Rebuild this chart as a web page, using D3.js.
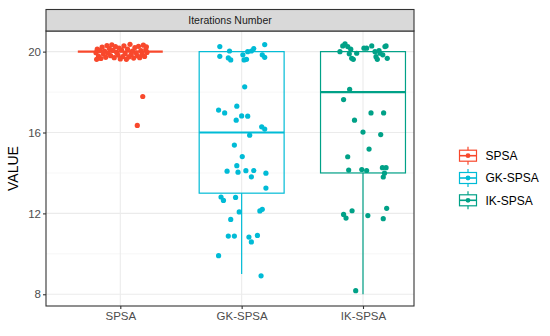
<!DOCTYPE html>
<html>
<head>
<meta charset="utf-8">
<script src="https://d3js.org/d3.v7.min.js"></script>
<style>
  body { margin: 0; background: #fff; }
  text { font-family: "Liberation Sans", Arial, sans-serif; }
</style>
</head>
<body>
<div id="chart"></div>
<script>
// groups and colours
var categories = ["SPSA", "GK-SPSA", "IK-SPSA"];
var colors = ["#F8482C", "#00BBD6", "#00A187"];

// box statistics per group: [lower whisker, q1, median, q3, upper whisker]
var boxStats = [
  [20, 20, 20, 20, 20],
  [9, 13, 16, 20, 20],
  [8, 14, 18, 20, 20]
];

// jittered points: [offset in category units, value]
var spsaPoints = [
  [-0.20, 19.95], [-0.19, 20.12], [-0.18, 19.78], [-0.17, 20.05], [-0.16, 19.66],
  [-0.15, 20.22], [-0.14, 19.88], [-0.13, 20.02], [-0.12, 19.72], [-0.11, 20.30],
  [-0.10, 19.92], [-0.09, 20.15], [-0.08, 19.80], [-0.07, 20.34], [-0.06, 20.06],
  [-0.05, 19.70], [-0.04, 20.25], [-0.03, 19.96], [-0.02, 19.83], [-0.01, 20.18],
  [0.00, 19.64], [0.01, 20.08], [0.02, 19.76], [0.03, 20.28], [0.04, 19.90],
  [0.05, 19.62], [0.06, 20.12], [0.07, 19.74], [0.08, 20.36], [0.09, 19.86],
  [0.10, 20.02], [0.11, 19.68], [0.12, 20.20], [0.13, 19.94], [0.14, 19.80],
  [0.15, 20.26], [0.16, 19.70], [0.17, 20.05], [0.18, 19.88], [0.19, 20.32],
  [0.20, 19.76], [0.21, 20.10], [0.22, 19.96], [-0.195, 19.62], [0.215, 20.24],
  [0.185, 17.78], [0.14, 16.35]
];
var gkPoints = [
  [-0.18, 20.25], [-0.10, 20.03], [-0.18, 19.77], [-0.11, 19.69], [-0.09, 19.59],
  [0.01, 19.84], [0.02, 19.59], [0.04, 19.62], [0.05, 20.00], [0.08, 20.03],
  [0.10, 20.15], [0.19, 20.35], [0.17, 19.84], [0.19, 19.72],
  [0.025, 18.26], [-0.19, 17.11], [-0.14, 16.97], [-0.04, 17.30], [0.00, 16.82],
  [0.05, 16.81], [-0.045, 16.61], [0.165, 16.28], [0.19, 16.17], [0.066, 15.87],
  [-0.06, 15.38], [0.005, 14.81], [-0.04, 14.36], [-0.12, 14.09], [-0.03, 14.04],
  [0.035, 14.11], [0.10, 14.12], [0.08, 13.81], [0.20, 13.99], [0.20, 13.25],
  [-0.17, 12.81], [-0.15, 12.64], [-0.05, 12.79], [-0.02, 12.07], [0.15, 12.12],
  [0.17, 12.20], [-0.09, 11.70], [-0.11, 10.88], [-0.06, 10.88], [0.06, 10.83],
  [0.13, 10.91], [0.08, 10.59], [-0.19, 9.91], [0.16, 8.91]
];
var ikPoints = [
  [-0.19, 20.00], [-0.167, 20.28], [-0.148, 20.38], [-0.126, 20.25], [-0.101, 20.12],
  [-0.113, 19.89], [-0.093, 19.67], [-0.08, 19.62], [-0.052, 19.92], [0.008, 20.17],
  [0.03, 20.17], [0.072, 20.28], [0.099, 20.00], [0.107, 19.75], [0.118, 19.62],
  [0.14, 19.92], [0.163, 19.84], [0.181, 20.25], [0.19, 20.28], [0.20, 19.67],
  [0.132, 20.05],
  [-0.11, 18.14], [-0.16, 17.63], [0.066, 16.97], [0.17, 16.97], [-0.07, 16.61],
  [0.00, 16.02], [0.146, 15.90], [0.05, 15.18], [-0.126, 14.80], [-0.118, 14.14],
  [-0.01, 14.17], [0.03, 14.12], [0.16, 14.26], [0.19, 14.26], [0.167, 13.80],
  [0.177, 13.99], [-0.16, 11.95], [-0.14, 11.77], [-0.09, 12.13], [0.04, 11.89],
  [0.167, 11.74], [0.195, 12.25], [-0.06, 8.18]
];
var pointSets = [spsaPoints, gkPoints, ikPoints];

var yTicks = [8, 12, 16, 20];
var yMinor = [10, 14, 18];

var width = 550, height = 336;
var panel = { left: 46, right: 414, top: 31, bottom: 306 };

var svg = d3.select("#chart").append("svg")
  .attr("width", width)
  .attr("height", height);

var x = d3.scalePoint()
  .domain(categories)
  .range([120.3, 363]);
var step = x.step();

var y = d3.scaleLinear()
  .domain([7.42, 21.02])
  .range([panel.bottom, panel.top]);

// grid
var grid = svg.append("g");
grid.selectAll(".minor").data(yMinor).enter().append("line")
  .attr("x1", panel.left).attr("x2", panel.right)
  .attr("y1", d => y(d)).attr("y2", d => y(d))
  .attr("stroke", "#F2F2F2").attr("stroke-width", 0.6);
grid.selectAll(".major").data(yTicks).enter().append("line")
  .attr("x1", panel.left).attr("x2", panel.right)
  .attr("y1", d => y(d)).attr("y2", d => y(d))
  .attr("stroke", "#EBEBEB").attr("stroke-width", 1.1);
grid.selectAll(".vmajor").data(categories).enter().append("line")
  .attr("x1", d => x(d)).attr("x2", d => x(d))
  .attr("y1", panel.top).attr("y2", panel.bottom)
  .attr("stroke", "#EBEBEB").attr("stroke-width", 1.1);

// boxes
var boxW = 0.7 * step;
categories.forEach(function (c, i) {
  var s = boxStats[i], cx = x(c), col = colors[i];
  var g = svg.append("g");
  g.append("line")
    .attr("x1", cx).attr("x2", cx)
    .attr("y1", y(s[0])).attr("y2", y(s[1]))
    .attr("stroke", col).attr("stroke-width", 1.2);
  g.append("line")
    .attr("x1", cx).attr("x2", cx)
    .attr("y1", y(s[3])).attr("y2", y(s[4]))
    .attr("stroke", col).attr("stroke-width", 1.2);
  g.append("rect")
    .attr("x", cx - boxW / 2).attr("width", boxW)
    .attr("y", y(s[3])).attr("height", y(s[1]) - y(s[3]))
    .attr("fill", "none").attr("stroke", col).attr("stroke-width", 1.2);
  g.append("line")
    .attr("x1", cx - boxW / 2).attr("x2", cx + boxW / 2)
    .attr("y1", y(s[2])).attr("y2", y(s[2]))
    .attr("stroke", col).attr("stroke-width", 2.2);
});

// jittered points
categories.forEach(function (c, i) {
  svg.append("g").selectAll("circle")
    .data(pointSets[i]).enter().append("circle")
    .attr("cx", d => x(c) + d[0] * step)
    .attr("cy", d => y(d[1]))
    .attr("r", 2.6)
    .attr("fill", colors[i]);
});

// panel border
svg.append("rect")
  .attr("x", panel.left).attr("y", panel.top)
  .attr("width", panel.right - panel.left).attr("height", panel.bottom - panel.top)
  .attr("fill", "none").attr("stroke", "#333333").attr("stroke-width", 1.1);

// strip
svg.append("rect")
  .attr("x", panel.left).attr("y", 9.5)
  .attr("width", panel.right - panel.left).attr("height", panel.top - 9.5)
  .attr("fill", "#D9D9D9").attr("stroke", "#333333").attr("stroke-width", 1.1);
svg.append("text")
  .attr("x", (panel.left + panel.right) / 2).attr("y", 24.3)
  .attr("text-anchor", "middle")
  .attr("font-size", 10.5).attr("fill", "#1A1A1A")
  .text("Iterations Number");

// axes
var yAxis = svg.append("g")
  .attr("transform", "translate(" + panel.left + ",0)")
  .call(d3.axisLeft(y).tickValues(yTicks).tickSize(3).tickPadding(2));
var xAxis = svg.append("g")
  .attr("transform", "translate(0," + panel.bottom + ")")
  .call(d3.axisBottom(x).tickSize(3).tickPadding(3));
[yAxis, xAxis].forEach(function (a) {
  a.select(".domain").remove();
  a.selectAll(".tick line").attr("stroke", "#333333").attr("stroke-width", 1.1);
  a.selectAll(".tick text").attr("fill", "#4D4D4D").attr("font-size", 11.5)
    .style("font-family", "'Liberation Sans', Arial, sans-serif");
});

svg.append("text")
  .attr("transform", "translate(18," + ((panel.top + panel.bottom) / 2) + ") rotate(-90)")
  .attr("text-anchor", "middle")
  .attr("font-size", 14).attr("fill", "#000")
  .text("VALUE");

// legend
var legend = svg.append("g");
categories.forEach(function (c, i) {
  var cy = 155.7 + i * 22.3, cx = 468, col = colors[i];
  var g = legend.append("g");
  g.append("line").attr("x1", cx).attr("x2", cx)
    .attr("y1", cy - 9).attr("y2", cy + 9)
    .attr("stroke", col).attr("stroke-width", 1.2);
  g.append("rect").attr("x", cx - 8.5).attr("y", cy - 5.5)
    .attr("width", 17).attr("height", 11)
    .attr("fill", "#fff").attr("stroke", col).attr("stroke-width", 1.2);
  g.append("line").attr("x1", cx - 8.5).attr("x2", cx + 8.5)
    .attr("y1", cy).attr("y2", cy)
    .attr("stroke", col).attr("stroke-width", 1.6);
  g.append("circle").attr("cx", cx).attr("cy", cy).attr("r", 2.4).attr("fill", col);
  g.append("text").attr("x", 485.5).attr("y", cy + 4.3)
    .attr("font-size", 12).attr("fill", "#000")
    .text(c);
});
</script>
</body>
</html>
